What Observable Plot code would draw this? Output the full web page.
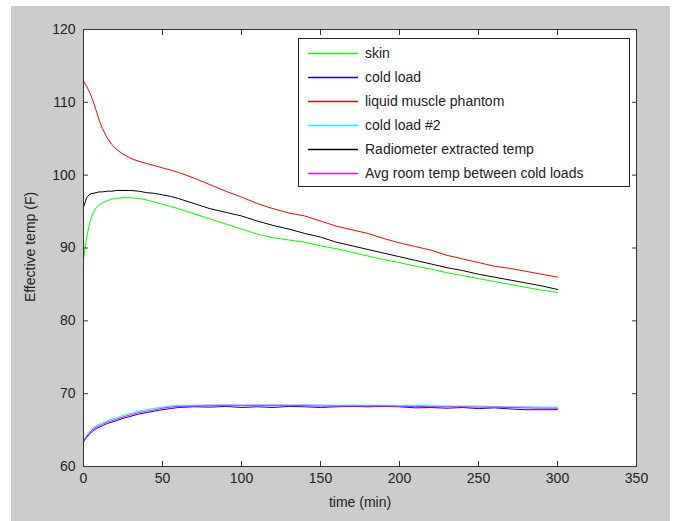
<!DOCTYPE html>
<html><head><meta charset="utf-8">
<script src="https://cdn.jsdelivr.net/npm/d3@7"></script>
<script src="https://cdn.jsdelivr.net/npm/@observablehq/plot@0.6"></script>
<style>
body{margin:0;background:#fff;font-family:"Liberation Sans",Arial,sans-serif;color:#222;}
#fig{position:absolute;left:11px;top:6px;width:659px;height:515px;background:#cccccc;overflow:hidden;}
#fig > svg{position:absolute;left:0;top:0;}
.lab{position:absolute;font-size:14px;white-space:nowrap;color:#222;}
#ylab{left:19px;top:241px;transform:translate(-50%,-50%) rotate(-90deg);transform-origin:center;}
#xlab{left:349px;top:496px;transform:translate(-50%,-50%);}
#legend{position:absolute;left:287px;top:32px;width:330px;height:147px;background:#fff;border:1px solid #222;}
#legend svg{position:absolute;left:0;top:0;}
.tx{position:absolute;left:66px;font-size:14px;line-height:18px;white-space:nowrap;color:#222;}
</style></head><body>
<div id="fig"></div>
<script>
const time = [0,2,4,6,8,10,12,15,18,21,25,30,35,40,45,50,55,60,70,80,90,100,110,120,130,140,150,160,170,180,190,200,210,220,230,240,250,260,270,280,290,300];
const skin = [88.4,91.5,93.5,94.8,95.5,95.9,96.2,96.5,96.7,96.8,96.9,96.9,96.8,96.6,96.3,96.0,95.7,95.4,94.7,94.0,93.3,92.6,91.9,91.4,91.1,90.8,90.3,89.9,89.4,88.9,88.4,88.0,87.5,87.1,86.6,86.2,85.8,85.4,85.0,84.6,84.2,83.9];
const coldLoad = [63.4,64.0,64.5,64.9,65.2,65.4,65.6,65.9,66.1,66.3,66.6,66.9,67.2,67.4,67.6,67.8,67.95,68.1,68.2,68.15,68.25,68.1,68.2,68.1,68.25,68.2,68.1,68.2,68.25,68.2,68.25,68.2,68.05,68.1,68.0,68.1,67.95,68.05,67.9,67.8,67.8,67.8];
const muscle = [112.9,112.2,111.3,110.2,108.9,107.5,106.4,105.1,104.2,103.5,102.9,102.3,101.9,101.6,101.3,101.0,100.7,100.4,99.6,98.7,97.8,97.0,96.1,95.4,94.8,94.4,93.7,93.0,92.5,92.0,91.3,90.7,90.2,89.7,89.0,88.5,88.0,87.5,87.2,86.8,86.4,86.0];
const coldLoad2 = [63.6,64.3,64.9,65.3,65.6,65.8,66.0,66.3,66.5,66.7,67.0,67.3,67.6,67.8,68.0,68.15,68.3,68.4,68.4,68.45,68.5,68.45,68.5,68.5,68.45,68.5,68.45,68.4,68.45,68.4,68.4,68.35,68.4,68.35,68.3,68.3,68.3,68.25,68.2,68.2,68.15,68.15];
const radiometer = [95.6,96.9,97.4,97.5,97.6,97.7,97.7,97.8,97.8,97.9,97.9,97.9,97.8,97.6,97.5,97.3,97.1,96.8,96.1,95.4,94.9,94.4,93.7,93.1,92.6,92.0,91.5,90.8,90.3,89.8,89.3,88.8,88.3,87.8,87.3,86.9,86.4,86.0,85.6,85.2,84.8,84.3];
const avgRoom = [63.5,64.1,64.7,65.1,65.4,65.6,65.8,66.1,66.3,66.5,66.8,67.1,67.4,67.6,67.8,68.0,68.15,68.25,68.3,68.35,68.35,68.35,68.35,68.35,68.35,68.35,68.3,68.3,68.3,68.3,68.3,68.25,68.25,68.2,68.2,68.2,68.15,68.15,68.1,68.05,68.0,68.0];

const seriesNames = ["skin","cold load","liquid muscle phantom","cold load #2","Radiometer extracted temp","Avg room temp between cold loads"];
const seriesColors = ["#00ff00","#0000ff","#ff0000","#00ffff","#000000","#ff00ff"];
const seriesValues = [skin, coldLoad, muscle, coldLoad2, radiometer, avgRoom];
const xTicks = [0,50,100,150,200,250,300,350];
const yTicks = [60,70,80,90,100,110,120];

const lineMarks = seriesValues.map((vals, i) =>
  Plot.line(time.map((t, j) => ({t, v: vals[j]})), {x: "t", y: "v", stroke: seriesColors[i], strokeWidth: 1})
);

const chart = Plot.plot({
  width: 659, height: 515,
  marginLeft: 72, marginRight: 34, marginTop: 23, marginBottom: 55,
  style: {background: "#cccccc", fontFamily: "'Liberation Sans', Arial, sans-serif", fontSize: "14px", color: "#222"},
  x: {domain: [0, 350]},
  y: {domain: [60, 120]},
  marks: [
    Plot.frame({fill: "white", stroke: null}),
    ...lineMarks,
    Plot.axisX({anchor: "bottom", ticks: xTicks, tickSize: -5, tickPadding: 12, tickFormat: d => String(d), label: null, stroke: "#333"}),
    Plot.axisX({anchor: "top", ticks: xTicks, tickSize: -5, tickFormat: () => "", label: null, stroke: "#333"}),
    Plot.axisY({anchor: "left", ticks: yTicks, tickSize: -5, tickPadding: 13, tickFormat: d => String(d), label: null, stroke: "#333"}),
    Plot.axisY({anchor: "right", ticks: yTicks, tickSize: -5, tickFormat: () => "", label: null, stroke: "#333"}),
    Plot.frame({stroke: "#333", strokeWidth: 1})
  ]
});
const fig = document.getElementById("fig");
fig.appendChild(chart);

const yl = document.createElement("div"); yl.className = "lab"; yl.id = "ylab"; yl.textContent = "Effective temp (F)"; fig.appendChild(yl);
const xl = document.createElement("div"); xl.className = "lab"; xl.id = "xlab"; xl.textContent = "time (min)"; fig.appendChild(xl);

const legend = document.createElement("div"); legend.id = "legend";
const NS = "http://www.w3.org/2000/svg";
const lsvg = document.createElementNS(NS, "svg");
lsvg.setAttribute("width", 330); lsvg.setAttribute("height", 147);
legend.appendChild(lsvg);
seriesNames.forEach((name, i) => {
  const cy = Math.round(14 + i * 24) + 0.5;
  const ln = document.createElementNS(NS, "line");
  ln.setAttribute("x1", 9); ln.setAttribute("x2", 59);
  ln.setAttribute("y1", cy); ln.setAttribute("y2", cy);
  ln.setAttribute("stroke", seriesColors[i]); ln.setAttribute("stroke-width", 1.6);
  lsvg.appendChild(ln);
  const tx = document.createElement("div"); tx.className = "tx"; tx.textContent = name;
  tx.style.top = (cy - 9.5) + "px";
  legend.appendChild(tx);
});
fig.appendChild(legend);
</script>
</body></html>
